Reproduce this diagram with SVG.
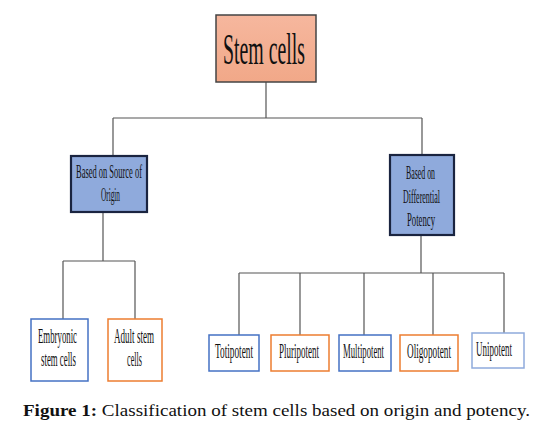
<svg xmlns="http://www.w3.org/2000/svg" width="533" height="426" viewBox="0 0 533 426">
<style>
.t{font-family:"Liberation Serif","Times New Roman",serif;fill:#111;}
.c{fill:none;stroke:#555;stroke-width:1.2;}
.lb{fill:#fff;stroke:#4472c4;stroke-width:1.5;}
.ob{fill:#fff;stroke:#ed7d31;stroke-width:1.5;}
.mid{fill:#8faadc;stroke:#1a2440;stroke-width:2.2;}
</style>
<defs>
<linearGradient id="sg" x1="0" y1="0" x2="0" y2="1">
<stop offset="0" stop-color="#f6b79e"/><stop offset="1" stop-color="#f1a888"/>
</linearGradient>
</defs>
<rect width="533" height="426" fill="#fff"/>
<g id="connectors">
<path class="c" d="M266 82V118M113 118H422M113 118V156M422 118V155"/>
<path class="c" d="M103 212V261M63 261H135M63 261V319M135 261V319"/>
<path class="c" d="M421 235V273M239 273H504M239 273V335M300 273V335M364 273V335M433 273V335M504 273V333"/>
</g>
<g id="stem-cells">
<rect x="216" y="15" width="100" height="67" fill="url(#sg)" stroke="#444" stroke-width="1.5"/>
<text class="t" transform="translate(223,64) scale(0.5,1)" font-size="45" textLength="164" lengthAdjust="spacingAndGlyphs">Stem cells</text>
</g>
<g id="origin">
<rect class="mid" x="71" y="156" width="76" height="56"/>
<text class="t" transform="translate(76,178) scale(0.5,1)" font-size="19" textLength="132" lengthAdjust="spacingAndGlyphs">Based on Source of</text>
<text class="t" transform="translate(101,201) scale(0.5,1)" font-size="19" textLength="38" lengthAdjust="spacingAndGlyphs">Origin</text>
</g>
<g id="potency">
<rect class="mid" x="390" y="155" width="64" height="80"/>
<text class="t" transform="translate(406,179) scale(0.5,1)" font-size="19" textLength="58" lengthAdjust="spacingAndGlyphs">Based on</text>
<text class="t" transform="translate(403,203) scale(0.5,1)" font-size="19" textLength="74" lengthAdjust="spacingAndGlyphs">Differential</text>
<text class="t" transform="translate(407,226) scale(0.5,1)" font-size="19" textLength="56" lengthAdjust="spacingAndGlyphs">Potency</text>
</g>
<g id="embryonic">
<rect class="lb" x="31" y="319" width="57" height="62"/>
<text class="t" transform="translate(38,343) scale(0.5,1)" font-size="20" textLength="78" lengthAdjust="spacingAndGlyphs">Embryonic</text>
<text class="t" transform="translate(41,366) scale(0.5,1)" font-size="20" textLength="70" lengthAdjust="spacingAndGlyphs">stem cells</text>
</g>
<g id="adult">
<rect class="ob" x="108" y="319" width="54" height="62"/>
<text class="t" transform="translate(114,343) scale(0.5,1)" font-size="20" textLength="80" lengthAdjust="spacingAndGlyphs">Adult stem</text>
<text class="t" transform="translate(127,366) scale(0.5,1)" font-size="20" textLength="30" lengthAdjust="spacingAndGlyphs">cells</text>
</g>
<g id="totipotent">
<rect class="lb" x="209" y="335" width="50" height="36"/>
<text class="t" transform="translate(215,358) scale(0.5,1)" font-size="21" textLength="76" lengthAdjust="spacingAndGlyphs">Totipotent</text>
</g>
<g id="pluripotent">
<rect class="ob" x="271" y="335" width="58" height="36"/>
<text class="t" transform="translate(279,358) scale(0.5,1)" font-size="21" textLength="80" lengthAdjust="spacingAndGlyphs">Pluripotent</text>
</g>
<g id="multipotent">
<rect class="lb" x="339" y="335" width="52" height="36"/>
<text class="t" transform="translate(343,358) scale(0.5,1)" font-size="21" textLength="82" lengthAdjust="spacingAndGlyphs">Multipotent</text>
</g>
<g id="oligopotent">
<rect class="ob" x="400" y="335" width="58" height="36"/>
<text class="t" transform="translate(407,358) scale(0.5,1)" font-size="21" textLength="88" lengthAdjust="spacingAndGlyphs">Oligopotent</text>
</g>
<g id="unipotent">
<rect x="472" y="333" width="52" height="35" fill="#fff" stroke="#8faadc" stroke-width="1.5"/>
<text class="t" transform="translate(476,356) scale(0.5,1)" font-size="21" textLength="72" lengthAdjust="spacingAndGlyphs">Unipotent</text>
</g>
<text class="t" x="23" y="416" font-size="17" textLength="507" lengthAdjust="spacingAndGlyphs"><tspan font-weight="bold">Figure 1:</tspan> Classification of stem cells based on origin and potency.</text>
</svg>
